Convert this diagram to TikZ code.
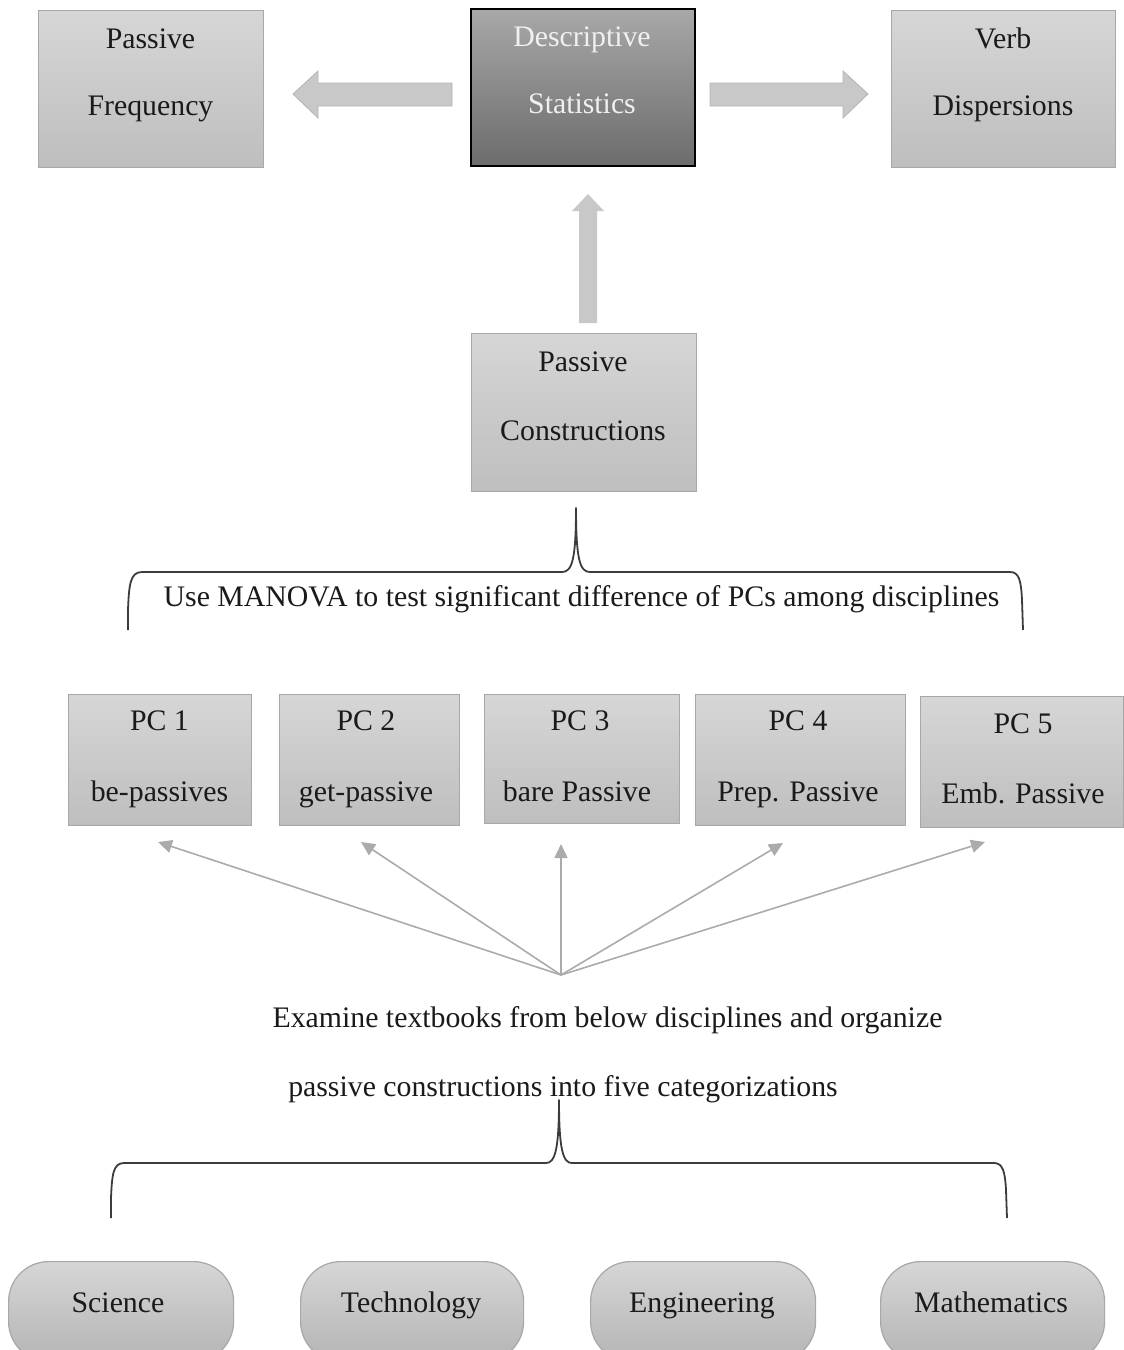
\documentclass[tikz,border=0pt]{standalone}
\usepackage{fontspec}
\setmainfont{Liberation Serif}
\usetikzlibrary{calc,arrows.meta}
\definecolor{lighttop}{HTML}{D6D6D6}
\definecolor{lightbot}{HTML}{BEBEBE}
\definecolor{lightedge}{HTML}{A8A8A8}
\definecolor{darktop}{HTML}{A8A8A8}
\definecolor{darkbot}{HTML}{6C6C6C}
\definecolor{blockfill}{HTML}{C8C8C8}
\definecolor{blockedge}{HTML}{B4B4B4}
\definecolor{thinarrow}{HTML}{ABABAB}
\definecolor{bracecol}{HTML}{3C3C3C}
\definecolor{txtcol}{HTML}{1A1A1A}
\tikzset{
  lightbox/.style={rectangle, draw=lightedge, line width=1.3pt, top color=lighttop, bottom color=lightbot, inner sep=0pt, anchor=north west},
  darkbox/.style={rectangle, draw=black, line width=1.8pt, top color=darktop, bottom color=darkbot, inner sep=0pt, anchor=north west},
  pill/.style={rectangle, rounded corners=40pt, draw=lightedge, line width=1.2pt, top color=lighttop, bottom color=lightbot!95!black, inner sep=0pt, anchor=north west, minimum height=100pt},
  lbl/.style={text=txtcol, font=\fontsize{29.8}{35}\selectfont, inner sep=0pt, anchor=center, text height=23pt, text depth=4pt},
  wlbl/.style={lbl, text=white!94!black},
  blockarrow/.style={fill=blockfill, draw=blockedge, line width=0.8pt, line join=miter},
  fanarrow/.style={draw=thinarrow, line width=1.6pt, -{Triangle[length=14pt,width=13pt]}},
  bracepath/.style={draw=bracecol, line width=1.8pt, line join=round}
}
\begin{document}
\begin{tikzpicture}[x=1pt,y=-1pt]
\useasboundingbox (0,0) rectangle (1124,1350);
\begin{scope}
\clip (0,0) rectangle (1124,1350);

% top row
\node[lightbox, minimum width=225pt, minimum height=157pt] (pf) at (38,10) {};
\node[darkbox, minimum width=224pt, minimum height=157pt] (ds) at (470,8) {};
\node[lightbox, minimum width=224pt, minimum height=157pt] (vd) at (891,10) {};
\node[lbl] (pf1) at (150.5,39) {Passive};
\node[lbl] (pf2) at (150.5,106) {Frequency};
\node[wlbl] (ds1) at (582,37) {Descriptive};
\node[wlbl] (ds2) at (582,104) {Statistics};
\node[lbl] (vd1) at (1003,39) {Verb};
\node[lbl] (vd2) at (1003,106) {Dispersions};

% block arrows
\draw[blockarrow] (452,83) -- (318,83) -- (318,71) -- (293,94) -- (318,118) -- (318,106) -- (452,106) -- cycle;
\draw[blockarrow] (710,83) -- (843,83) -- (843,71) -- (868,94) -- (843,118) -- (843,106) -- (710,106) -- cycle;
\fill[blockfill] (579,323) -- (579,211) -- (572,211) -- (588,194) -- (604,211) -- (597,211) -- (597,323) -- cycle;

% passive constructions
\node[lightbox, minimum width=225pt, minimum height=158pt] (pc) at (471,333) {};
\node[lbl] (pca) at (583,362) {Passive};
\node[lbl] (pcb) at (583,431) {Constructions};

% brace 1
\coordinate (b1l) at (128,630);
\coordinate (b1t) at (576,508);
\coordinate (b1r) at (1023,630);
\draw[bracepath] (b1l) -- (128,610) .. controls (129,585) and (130,572) .. (142,572) -- (562,572) .. controls (572,572) and (576,560) .. (b1t) .. controls (576,560) and (580,572) .. (590,572) -- (1010,572) .. controls (1019,572) and (1021,580) .. (1022,600) -- (b1r);
\node[lbl] (manova) at (581.5,597) {Use MANOVA to test significant difference of PCs among disciplines};

% PC boxes
\node[lightbox, minimum width=183pt, minimum height=131pt] (p1) at (68,694) {};
\node[lightbox, minimum width=180pt, minimum height=131pt] (p2) at (279,694) {};
\node[lightbox, minimum width=195pt, minimum height=129pt] (p3) at (484,694) {};
\node[lightbox, minimum width=210pt, minimum height=131pt] (p4) at (695,694) {};
\node[lightbox, minimum width=203pt, minimum height=131pt] (p5) at (920,696) {};
\node[lbl] (p1a) at (159.5,721) {PC 1};
\node[lbl] (p1b) at (159.5,792) {be-passives};
\node[lbl] (p2a) at (366,721) {PC 2};
\node[lbl] (p2b) at (366,792) {get-passive};
\node[lbl] (p3a) at (580,721) {PC 3};
\node[lbl] (p3b) at (577,792) {bare Passive};
\node[lbl] (p4a) at (798,721) {PC 4};
\node[lbl] (p4b) at (798,792) {Prep. Passive};
\node[lbl] (p5a) at (1023,724) {PC 5};
\node[lbl] (p5b) at (1023,794) {Emb. Passive};

% fan arrows
\coordinate (hub) at (561,975);
\coordinate (t1) at (158,842);
\coordinate (t2) at (361,842);
\coordinate (t3) at (561,844);
\coordinate (t4) at (783,843);
\coordinate (t5) at (985,842);
\draw[fanarrow] (hub) -- (t1);
\draw[fanarrow] (hub) -- (t2);
\draw[fanarrow] (hub) -- (t3);
\draw[fanarrow] (hub) -- (t4);
\draw[fanarrow] (hub) -- (t5);

% examine text
\node[lbl] (ex1) at (607.5,1018) {Examine textbooks from below disciplines and organize};
\node[lbl] (ex2) at (563,1087) {passive constructions into five categorizations};

% brace 2
\coordinate (b2l) at (111,1218);
\coordinate (b2t) at (559,1100);
\coordinate (b2r) at (1007,1218);
\draw[bracepath] (b2l) -- (111,1198) .. controls (112,1175) and (113,1163) .. (124,1163) -- (546,1163) .. controls (555,1163) and (559,1150) .. (b2t) .. controls (559,1150) and (563,1163) .. (572,1163) -- (994,1163) .. controls (1003,1163) and (1005,1172) .. (1006,1190) -- (b2r);

% disciplines
\node[pill, minimum width=225pt] (sci) at (8,1261) {};
\node[pill, minimum width=223pt] (tech) at (300,1261) {};
\node[pill, minimum width=225pt] (eng) at (590,1261) {};
\node[pill, minimum width=224pt] (math) at (880,1261) {};
\node[lbl] (scit) at (118,1303) {Science};
\node[lbl] (techt) at (411,1303) {Technology};
\node[lbl] (engt) at (702,1303) {Engineering};
\node[lbl] (matht) at (991,1303) {Mathematics};
\end{scope}
\end{tikzpicture}
\end{document}
